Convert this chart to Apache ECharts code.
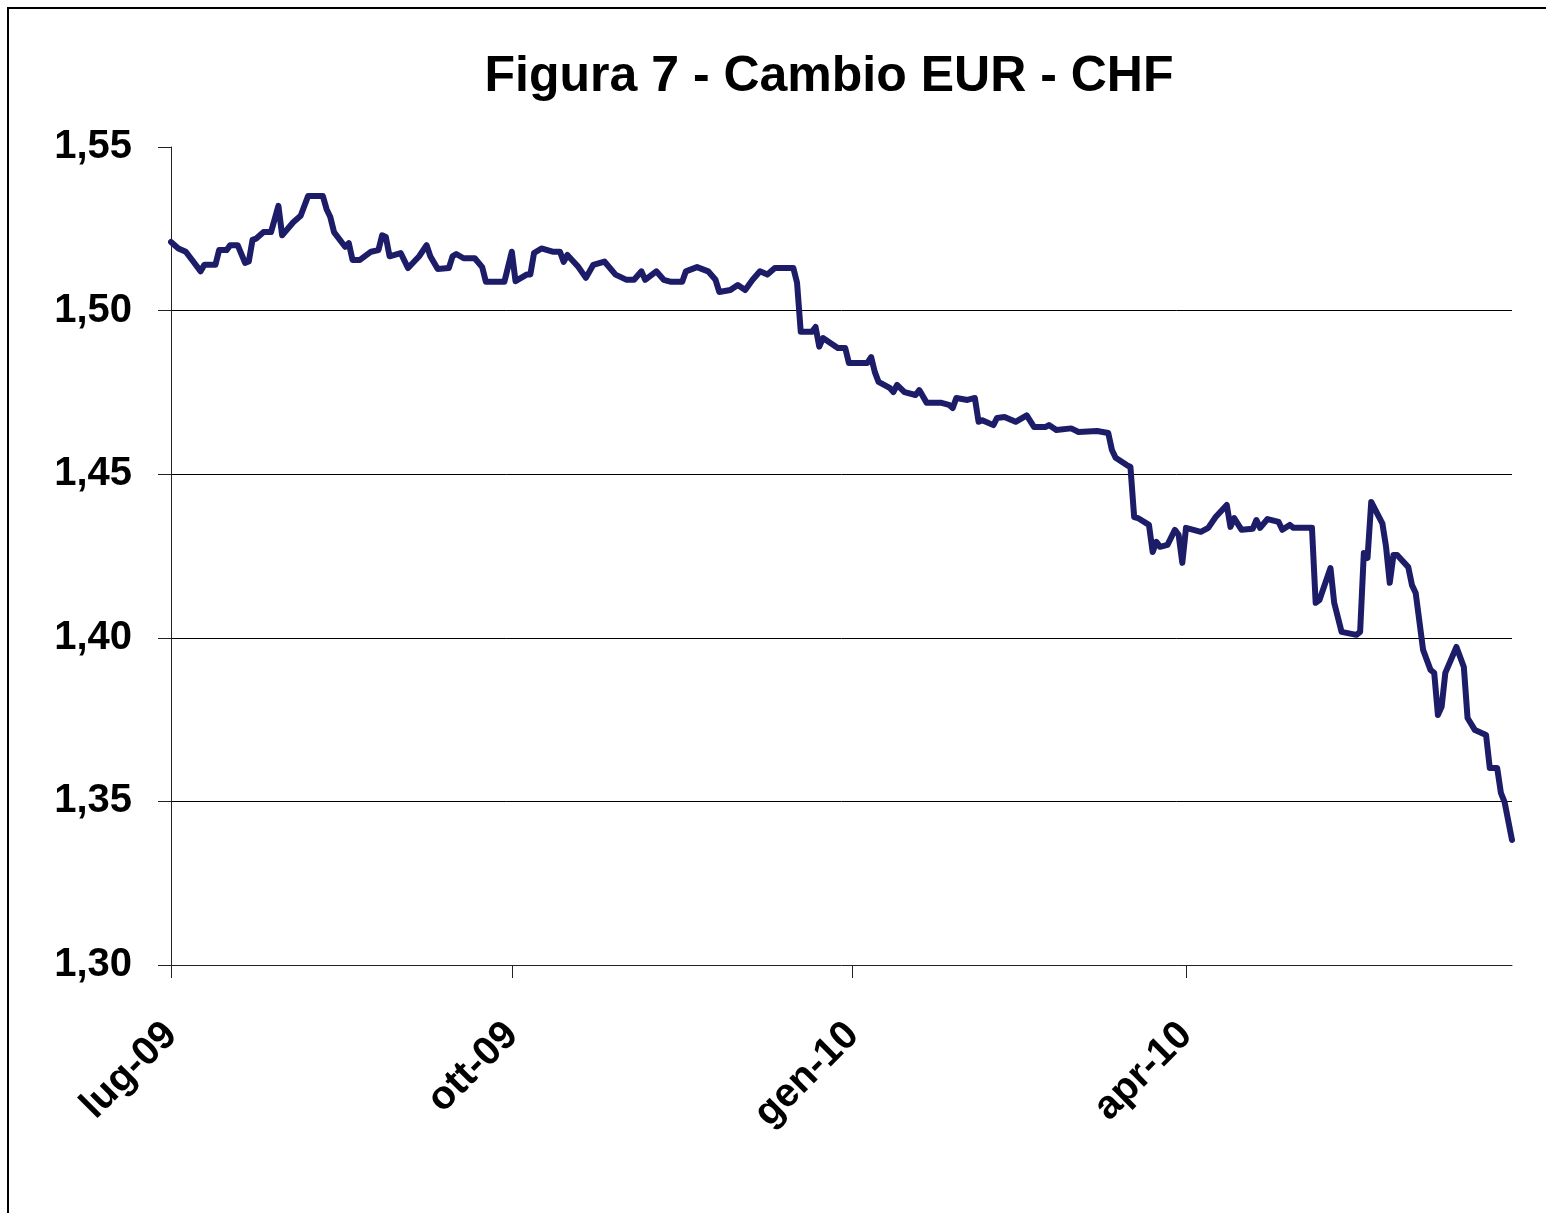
<!DOCTYPE html>
<html>
<head>
<meta charset="utf-8">
<title>Figura 7 - Cambio EUR - CHF</title>
<script src="https://cdn.jsdelivr.net/npm/echarts@6/dist/echarts.min.js"></script>
<style>
    html, body { margin: 0; padding: 0; background: #fff; }
    #chart { width: 1546px; height: 1213px; }
</style>
</head>
<body>
<div id="chart"></div>
<script>
// EUR/CHF, lug-09 .. giu-10
var dates = [
    '2009-07-01', '2009-07-03', '2009-07-05', '2009-07-07', '2009-07-09', '2009-07-10', '2009-07-13', '2009-07-14',
    '2009-07-16', '2009-07-17', '2009-07-19', '2009-07-21', '2009-07-22', '2009-07-23', '2009-07-24', '2009-07-26',
    '2009-07-28', '2009-07-30', '2009-07-31', '2009-08-03', '2009-08-05', '2009-08-07', '2009-08-11', '2009-08-12',
    '2009-08-13', '2009-08-14', '2009-08-17', '2009-08-18', '2009-08-19', '2009-08-21', '2009-08-24', '2009-08-26',
    '2009-08-27', '2009-08-28', '2009-08-29', '2009-09-01', '2009-09-03', '2009-09-06', '2009-09-08', '2009-09-09',
    '2009-09-11', '2009-09-14', '2009-09-15', '2009-09-16', '2009-09-18', '2009-09-21', '2009-09-23', '2009-09-24',
    '2009-09-29', '2009-10-01', '2009-10-02', '2009-10-05', '2009-10-06', '2009-10-07', '2009-10-09', '2009-10-12',
    '2009-10-14', '2009-10-15', '2009-10-16', '2009-10-19', '2009-10-21', '2009-10-23', '2009-10-26', '2009-10-29',
    '2009-11-01', '2009-11-03', '2009-11-05', '2009-11-06', '2009-11-09', '2009-11-11', '2009-11-13', '2009-11-16',
    '2009-11-17', '2009-11-20', '2009-11-23', '2009-11-25', '2009-11-26', '2009-11-29', '2009-12-01', '2009-12-03',
    '2009-12-05', '2009-12-07', '2009-12-09', '2009-12-11', '2009-12-16', '2009-12-17', '2009-12-18', '2009-12-21',
    '2009-12-22', '2009-12-23', '2009-12-24', '2009-12-28', '2009-12-30', '2009-12-31', '2010-01-05', '2010-01-06',
    '2010-01-07', '2010-01-08', '2010-01-11', '2010-01-12', '2010-01-13', '2010-01-15', '2010-01-18', '2010-01-19',
    '2010-01-21', '2010-01-25', '2010-01-27', '2010-01-28', '2010-01-29', '2010-02-01', '2010-02-03', '2010-02-04',
    '2010-02-05', '2010-02-08', '2010-02-09', '2010-02-11', '2010-02-14', '2010-02-17', '2010-02-19', '2010-02-22',
    '2010-02-23', '2010-02-25', '2010-03-01', '2010-03-03', '2010-03-08', '2010-03-11', '2010-03-12', '2010-03-13',
    '2010-03-16', '2010-03-17', '2010-03-18', '2010-03-19', '2010-03-22', '2010-03-23', '2010-03-24', '2010-03-25',
    '2010-03-27', '2010-03-29', '2010-03-30', '2010-03-31', '2010-04-01', '2010-04-05', '2010-04-07', '2010-04-09',
    '2010-04-12', '2010-04-13', '2010-04-14', '2010-04-16', '2010-04-19', '2010-04-20', '2010-04-21', '2010-04-23',
    '2010-04-26', '2010-04-27', '2010-04-29', '2010-04-30', '2010-05-05', '2010-05-06', '2010-05-07', '2010-05-10',
    '2010-05-11', '2010-05-13', '2010-05-17', '2010-05-18', '2010-05-19', '2010-05-20', '2010-05-21', '2010-05-24',
    '2010-05-25', '2010-05-26', '2010-05-27', '2010-05-28', '2010-05-31', '2010-06-01', '2010-06-02', '2010-06-04',
    '2010-06-06', '2010-06-07', '2010-06-08', '2010-06-09', '2010-06-10', '2010-06-13', '2010-06-15', '2010-06-16',
    '2010-06-18', '2010-06-21', '2010-06-22', '2010-06-24', '2010-06-25', '2010-06-26', '2010-06-28'
];
var eurChf = [
    1.5210, 1.5190, 1.5180, 1.5150, 1.5120, 1.5140, 1.5140, 1.5185,
    1.5185, 1.5200, 1.5200, 1.5146, 1.5150, 1.5216, 1.5220, 1.5240,
    1.5240, 1.5320, 1.5230, 1.5270, 1.5290, 1.5350, 1.5350, 1.5310,
    1.5286, 1.5240, 1.5195, 1.5206, 1.5155, 1.5155, 1.5180, 1.5185,
    1.5230, 1.5225, 1.5166, 1.5176, 1.5130, 1.5166, 1.5200, 1.5166,
    1.5127, 1.5130, 1.5166, 1.5173, 1.5160, 1.5160, 1.5133, 1.5088,
    1.5088, 1.5180, 1.5090, 1.5110, 1.5110, 1.5176, 1.5190, 1.5180,
    1.5180, 1.5149, 1.5170, 1.5133, 1.5100, 1.5140, 1.5150, 1.5110,
    1.5094, 1.5094, 1.5120, 1.5094, 1.5120, 1.5094, 1.5088, 1.5088,
    1.5120, 1.5133, 1.5120, 1.5094, 1.5057, 1.5063, 1.5078, 1.5063,
    1.5094, 1.5120, 1.5110, 1.5130, 1.5130, 1.5085, 1.4935, 1.4935,
    1.4950, 1.4890, 1.4916, 1.4886, 1.4886, 1.4840, 1.4840, 1.4858,
    1.4812, 1.4782, 1.4764, 1.4751, 1.4773, 1.4751, 1.4742, 1.4757,
    1.4718, 1.4718, 1.4712, 1.4702, 1.4733, 1.4727, 1.4733, 1.4660,
    1.4665, 1.4650, 1.4672, 1.4675, 1.4660, 1.4680, 1.4644, 1.4644,
    1.4650, 1.4635, 1.4640, 1.4629, 1.4632, 1.4626, 1.4574, 1.4550,
    1.4528, 1.4522, 1.4369, 1.4366, 1.4345, 1.4262, 1.4293, 1.4278,
    1.4284, 1.4330, 1.4315, 1.4229, 1.4336, 1.4324, 1.4336, 1.4369,
    1.4406, 1.4339, 1.4366, 1.4330, 1.4333, 1.4360, 1.4336, 1.4363,
    1.4354, 1.4330, 1.4345, 1.4336, 1.4336, 1.4107, 1.4115, 1.4213,
    1.4107, 1.4018, 1.4009, 1.4018, 1.4259, 1.4244, 1.4415, 1.4350,
    1.4278, 1.4168, 1.4253, 1.4253, 1.4216, 1.4161, 1.4137, 1.3963,
    1.3902, 1.3893, 1.3764, 1.3789, 1.3893, 1.3972, 1.3911, 1.3755,
    1.3718, 1.3703, 1.3602, 1.3602, 1.3526, 1.3498, 1.3382
];
var tickDates = ['2009-07-01', '2009-10-01', '2010-01-01', '2010-04-01'];
var tickLabels = ['lug-09', 'ott-09', 'gen-10', 'apr-10'];
var axisStart = '2009-07-01';
var axisEnd = '2010-06-28';

function toTime(s) {
    var p = s.split('-');
    return Date.UTC(+p[0], +p[1] - 1, +p[2]);
}

var seriesData = [];
for (var i = 0; i < dates.length; i++) {
    seriesData.push([toTime(dates[i]), eurChf[i]]);
}
var tickTimes = tickDates.map(toTime);

var font = 'Liberation Sans, Arial, sans-serif';

var chart = echarts.init(document.getElementById('chart'), null, {renderer: 'canvas'});
chart.setOption({
    animation: false,
    backgroundColor: '#fff',
    title: {
        text: 'Figura 7 - Cambio EUR - CHF',
        left: 824,
        top: 47,
        textAlign: 'center',
        textStyle: {fontFamily: font, fontWeight: 'bold', fontSize: 50, color: '#000'}
    },
    graphic: [{
        type: 'rect',
        shape: {x: 8, y: 8, width: 1570, height: 1240},
        style: {fill: 'none', stroke: '#000', lineWidth: 2},
        silent: true
    }],
    grid: {left: 171, right: 34, top: 147, bottom: 248},
    // asse dei tempi come asse numerico: tacche solo a inizio trimestre
    xAxis: {
        type: 'value',
        min: toTime(axisStart),
        max: toTime(axisEnd),
        axisLine: {lineStyle: {color: '#222', width: 1}},
        axisTick: {show: true, length: 13, customValues: tickTimes, lineStyle: {color: '#222'}},
        splitLine: {show: false},
        axisLabel: {
            customValues: tickTimes,
            rotate: 45,
            margin: 64,
            fontFamily: font,
            fontWeight: 'bold',
            fontSize: 40,
            color: '#000',
            formatter: function (v) {
                var idx = tickTimes.indexOf(v);
                return idx >= 0 ? tickLabels[idx] : '';
            }
        }
    },
    yAxis: {
        type: 'value',
        min: 1.30,
        max: 1.55,
        interval: 0.05,
        axisLine: {show: true, lineStyle: {color: '#222', width: 1}},
        axisTick: {show: true, length: 13, lineStyle: {color: '#222'}},
        splitLine: {show: true, showMinLine: false, showMaxLine: false, lineStyle: {color: '#000', width: 1}},
        axisLabel: {
            margin: 39,
            fontFamily: font,
            fontWeight: 'bold',
            fontSize: 40,
            color: '#000',
            formatter: function (v) {
                return v.toFixed(2).replace('.', ',');
            }
        }
    },
    series: [{
        name: 'EUR - CHF',
        type: 'line',
        data: seriesData,
        showSymbol: false,
        lineStyle: {color: '#1c1c68', width: 6, join: 'round', cap: 'round'}
    }]
});
</script>
</body>
</html>
